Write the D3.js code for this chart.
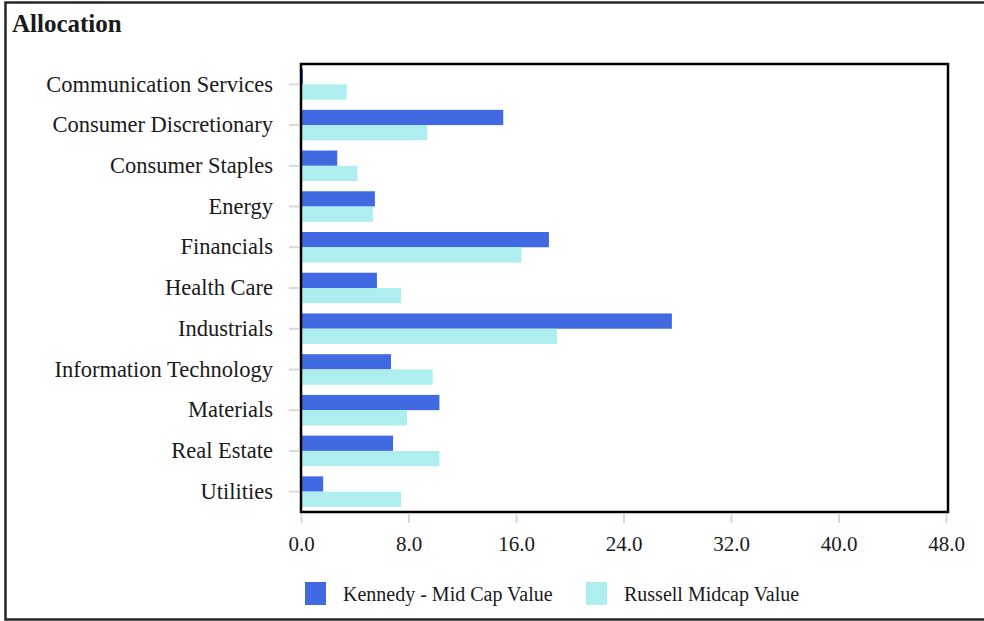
<!DOCTYPE html>
<html>
<head>
<meta charset="utf-8">
<script src="https://cdn.jsdelivr.net/npm/d3@7"></script>
<style>
  html, body { margin: 0; padding: 0; background: #fff; }
  svg { display: block; }
  text { font-family: "Liberation Serif", "DejaVu Serif", serif; fill: #1a1a1a; }
</style>
</head>
<body>
<svg id="chart" width="984" height="621"></svg>
<script>
const categories = [
  "Communication Services", "Consumer Discretionary", "Consumer Staples", "Energy",
  "Financials", "Health Care", "Industrials", "Information Technology",
  "Materials", "Real Estate", "Utilities"
];
const seriesNames = ["Kennedy - Mid Cap Value", "Russell Midcap Value"];
const kennedy = [0.15, 15.05, 2.7, 5.5, 18.45, 5.65, 27.6, 6.7, 10.3, 6.85, 1.65];
const russell = [3.4, 9.4, 4.2, 5.35, 16.4, 7.45, 19.05, 9.8, 7.9, 10.3, 7.45];
const xTicks = [0, 8, 16, 24, 32, 40, 48];
const colors = ["#4169e1", "#afeeee"];
const title = "Allocation";

const svg = d3.select("#chart");
const W = 984, H = 621;
const plot = { left: 301, right: 946, top: 64, bottom: 512 };

// outer frame (top, left, bottom)
svg.append("path")
  .attr("d", `M${W + 5},2.5 H5.5 V619.5 H${W + 5}`)
  .attr("fill", "none").attr("stroke", "#262626").attr("stroke-width", 2.5);

svg.append("text")
  .attr("x", 12).attr("y", 32)
  .attr("font-size", 25).attr("font-weight", "bold")
  .text(title);

const x = d3.scaleLinear().domain([0, 48]).range([plot.left, plot.right]);
const y = d3.scaleBand().domain(categories).range([plot.top, plot.bottom])
  .paddingInner(0.25).paddingOuter(0.125);
const ySub = d3.scaleBand().domain([0, 1]).range([0, y.bandwidth()]);

// bars
const series = [kennedy, russell];
series.forEach((vals, si) => {
  svg.append("g").selectAll("rect")
    .data(vals)
    .join("rect")
    .attr("x", x(0))
    .attr("y", (d, i) => y(categories[i]) + ySub(si))
    .attr("width", d => x(d) - x(0))
    .attr("height", ySub.bandwidth())
    .attr("fill", colors[si]);
});

// plot frame
svg.append("rect")
  .attr("x", plot.left).attr("y", plot.top)
  .attr("width", 948 - plot.left).attr("height", plot.bottom - plot.top)
  .attr("fill", "none").attr("stroke", "#000").attr("stroke-width", 2.5);

// y axis
const yAxis = svg.append("g")
  .attr("transform", `translate(${plot.left - 2},0)`)
  .call(d3.axisLeft(y).tickSize(10).tickPadding(16));
yAxis.select(".domain").remove();
yAxis.selectAll(".tick line").attr("stroke", "#d9d9d9").attr("stroke-width", 2);
yAxis.selectAll(".tick text")
  .attr("font-size", 22.5).attr("fill", "#1a1a1a")
  .attr("font-family", "Liberation Serif, serif");

// x axis
const xAxis = svg.append("g")
  .attr("transform", `translate(0,${plot.bottom + 2})`)
  .call(d3.axisBottom(x).tickValues(xTicks).tickFormat(d3.format(".1f")).tickSize(9).tickPadding(13));
xAxis.select(".domain").remove();
xAxis.selectAll(".tick line").attr("stroke", "#d9d9d9").attr("stroke-width", 2);
xAxis.selectAll(".tick text")
  .attr("font-size", 21).attr("fill", "#1a1a1a")
  .attr("font-family", "Liberation Serif, serif");

// legend
const legendX = [305, 586];
const legend = svg.append("g");
seriesNames.forEach((name, i) => {
  legend.append("rect")
    .attr("x", legendX[i]).attr("y", 582)
    .attr("width", 21).attr("height", 23)
    .attr("fill", colors[i]);
  legend.append("text")
    .attr("x", legendX[i] + 38).attr("y", 601)
    .attr("font-size", 20)
    .text(name);
});
</script>
</body>
</html>
